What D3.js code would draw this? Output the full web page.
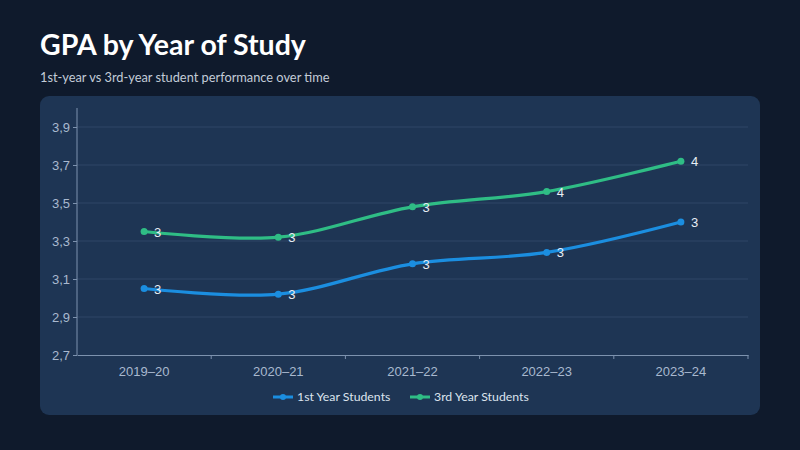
<!DOCTYPE html>
<html>
<head>
    <meta charset="utf-8" />
    <title>GPA by Year of Study</title>
    <script src="https://d3js.org/d3.v7.min.js"></script>
    <style>
        body { margin: 0; background: #0f1a2c; }
        svg { display: block; }
    </style>
</head>
<body>
    <svg id="chart" width="800" height="450"></svg>
    <script>
        // data
        const years = ["2019–20", "2020–21", "2021–22", "2022–23", "2023–24"];
        const firstYear = [3.05, 3.02, 3.18, 3.24, 3.40];
        const thirdYear = [3.35, 3.32, 3.48, 3.56, 3.72];
        const yTicks = [2.7, 2.9, 3.1, 3.3, 3.5, 3.7, 3.9];

        const series = [
            { name: "1st Year Students", values: firstYear, color: "#1b8ee0" },
            { name: "3rd Year Students", values: thirdYear, color: "#2fbd85" }
        ];

        const svg = d3.select("#chart");
        const plotLeft = 77, plotRight = 748, plotTop = 108, plotBottom = 355;

        // title + subtitle
        svg.append("text")
            .attr("x", 40).attr("y", 55)
            .attr("fill", "#ffffff")
            .attr("font-family", "Lato, 'Open Sans', sans-serif")
            .attr("font-weight", "bold")
            .attr("font-size", 28.5)
            .text("GPA by Year of Study");

        svg.append("text")
            .attr("x", 40).attr("y", 82)
            .attr("fill", "#c3ccd8")
            .attr("font-family", "Lato, 'Open Sans', sans-serif")
            .attr("font-size", 12.8)
            .text("1st-year vs 3rd-year student performance over time");

        // panel
        svg.append("rect")
            .attr("x", 40).attr("y", 96)
            .attr("width", 720).attr("height", 319)
            .attr("rx", 9)
            .attr("fill", "#1e3554");

        const x = d3.scaleBand().domain(years).range([plotLeft, plotRight]);
        const y = d3.scaleLinear().domain([2.7, 4.0]).range([plotBottom, plotTop]);

        // gridlines
        svg.append("g")
            .selectAll("line")
            .data(yTicks.slice(1))
            .enter()
            .append("line")
            .attr("x1", plotLeft).attr("x2", plotRight)
            .attr("y1", d => y(d)).attr("y2", d => y(d))
            .attr("stroke", "#2f4767")
            .attr("stroke-width", 1);

        const fmt = d => d.toFixed(1).replace(".", ",");

        // y axis
        const yAxis = svg.append("g")
            .attr("transform", `translate(${plotLeft},0)`)
            .call(d3.axisLeft(y).tickValues(yTicks).tickFormat(fmt).tickSize(4).tickSizeOuter(0));

        // x axis
        const xAxis = svg.append("g")
            .attr("transform", `translate(0,${plotBottom})`)
            .call(d3.axisBottom(x).tickSize(0).tickPadding(12));

        // band-edge ticks
        svg.append("g")
            .selectAll("line")
            .data(years)
            .enter()
            .append("line")
            .attr("x1", d => x(d) + x.bandwidth())
            .attr("x2", d => x(d) + x.bandwidth())
            .attr("y1", plotBottom).attr("y2", plotBottom + 4)
            .attr("stroke", "#7d92ae");

        [yAxis, xAxis].forEach(g => {
            g.select(".domain").attr("stroke", "#7d92ae");
            g.selectAll(".tick line").attr("stroke", "#7d92ae");
            g.selectAll("text")
                .attr("fill", "#a9b9cf")
                .attr("font-family", "'Liberation Sans', Arial, sans-serif")
                .attr("font-size", 13);
        });
        yAxis.select(".domain").attr("d", `M0,${plotTop}V${plotBottom}`);

        const cx = d => x(d) + x.bandwidth() / 2;

        const line = d3.line()
            .x((d, i) => cx(years[i]))
            .y(d => y(d))
            .curve(d3.curveCatmullRom.alpha(0.5));

        series.forEach(s => {
            svg.append("path")
                .datum(s.values)
                .attr("fill", "none")
                .attr("stroke", s.color)
                .attr("stroke-width", 3.2)
                .attr("stroke-linecap", "round")
                .attr("d", line);

            svg.append("g")
                .selectAll("circle")
                .data(s.values)
                .enter()
                .append("circle")
                .attr("cx", (d, i) => cx(years[i]))
                .attr("cy", d => y(d))
                .attr("r", 3.5)
                .attr("fill", s.color);

            svg.append("g")
                .selectAll("text")
                .data(s.values)
                .enter()
                .append("text")
                .attr("x", (d, i) => cx(years[i]) + 10)
                .attr("y", d => y(d) + 5)
                .attr("fill", "#e8eef5")
                .attr("font-family", "'Liberation Sans', Arial, sans-serif")
                .attr("font-size", 13)
                .text(d => Math.round(d));
        });

        // legend
        const legend = svg.append("g").attr("transform", "translate(273,397)");
        const items = legend.selectAll("g")
            .data(series)
            .enter()
            .append("g")
            .attr("transform", (d, i) => `translate(${i * 137},0)`);

        items.append("line")
            .attr("x1", 0).attr("x2", 20)
            .attr("stroke", d => d.color)
            .attr("stroke-width", 3);
        items.append("circle")
            .attr("cx", 10).attr("r", 3)
            .attr("fill", d => d.color);
        items.append("text")
            .attr("x", 24).attr("y", 4)
            .attr("fill", "#dce4ee")
            .attr("font-family", "Lato, 'Open Sans', sans-serif")
            .attr("font-size", 12.3)
            .text(d => d.name);
    </script>
</body>
</html>
